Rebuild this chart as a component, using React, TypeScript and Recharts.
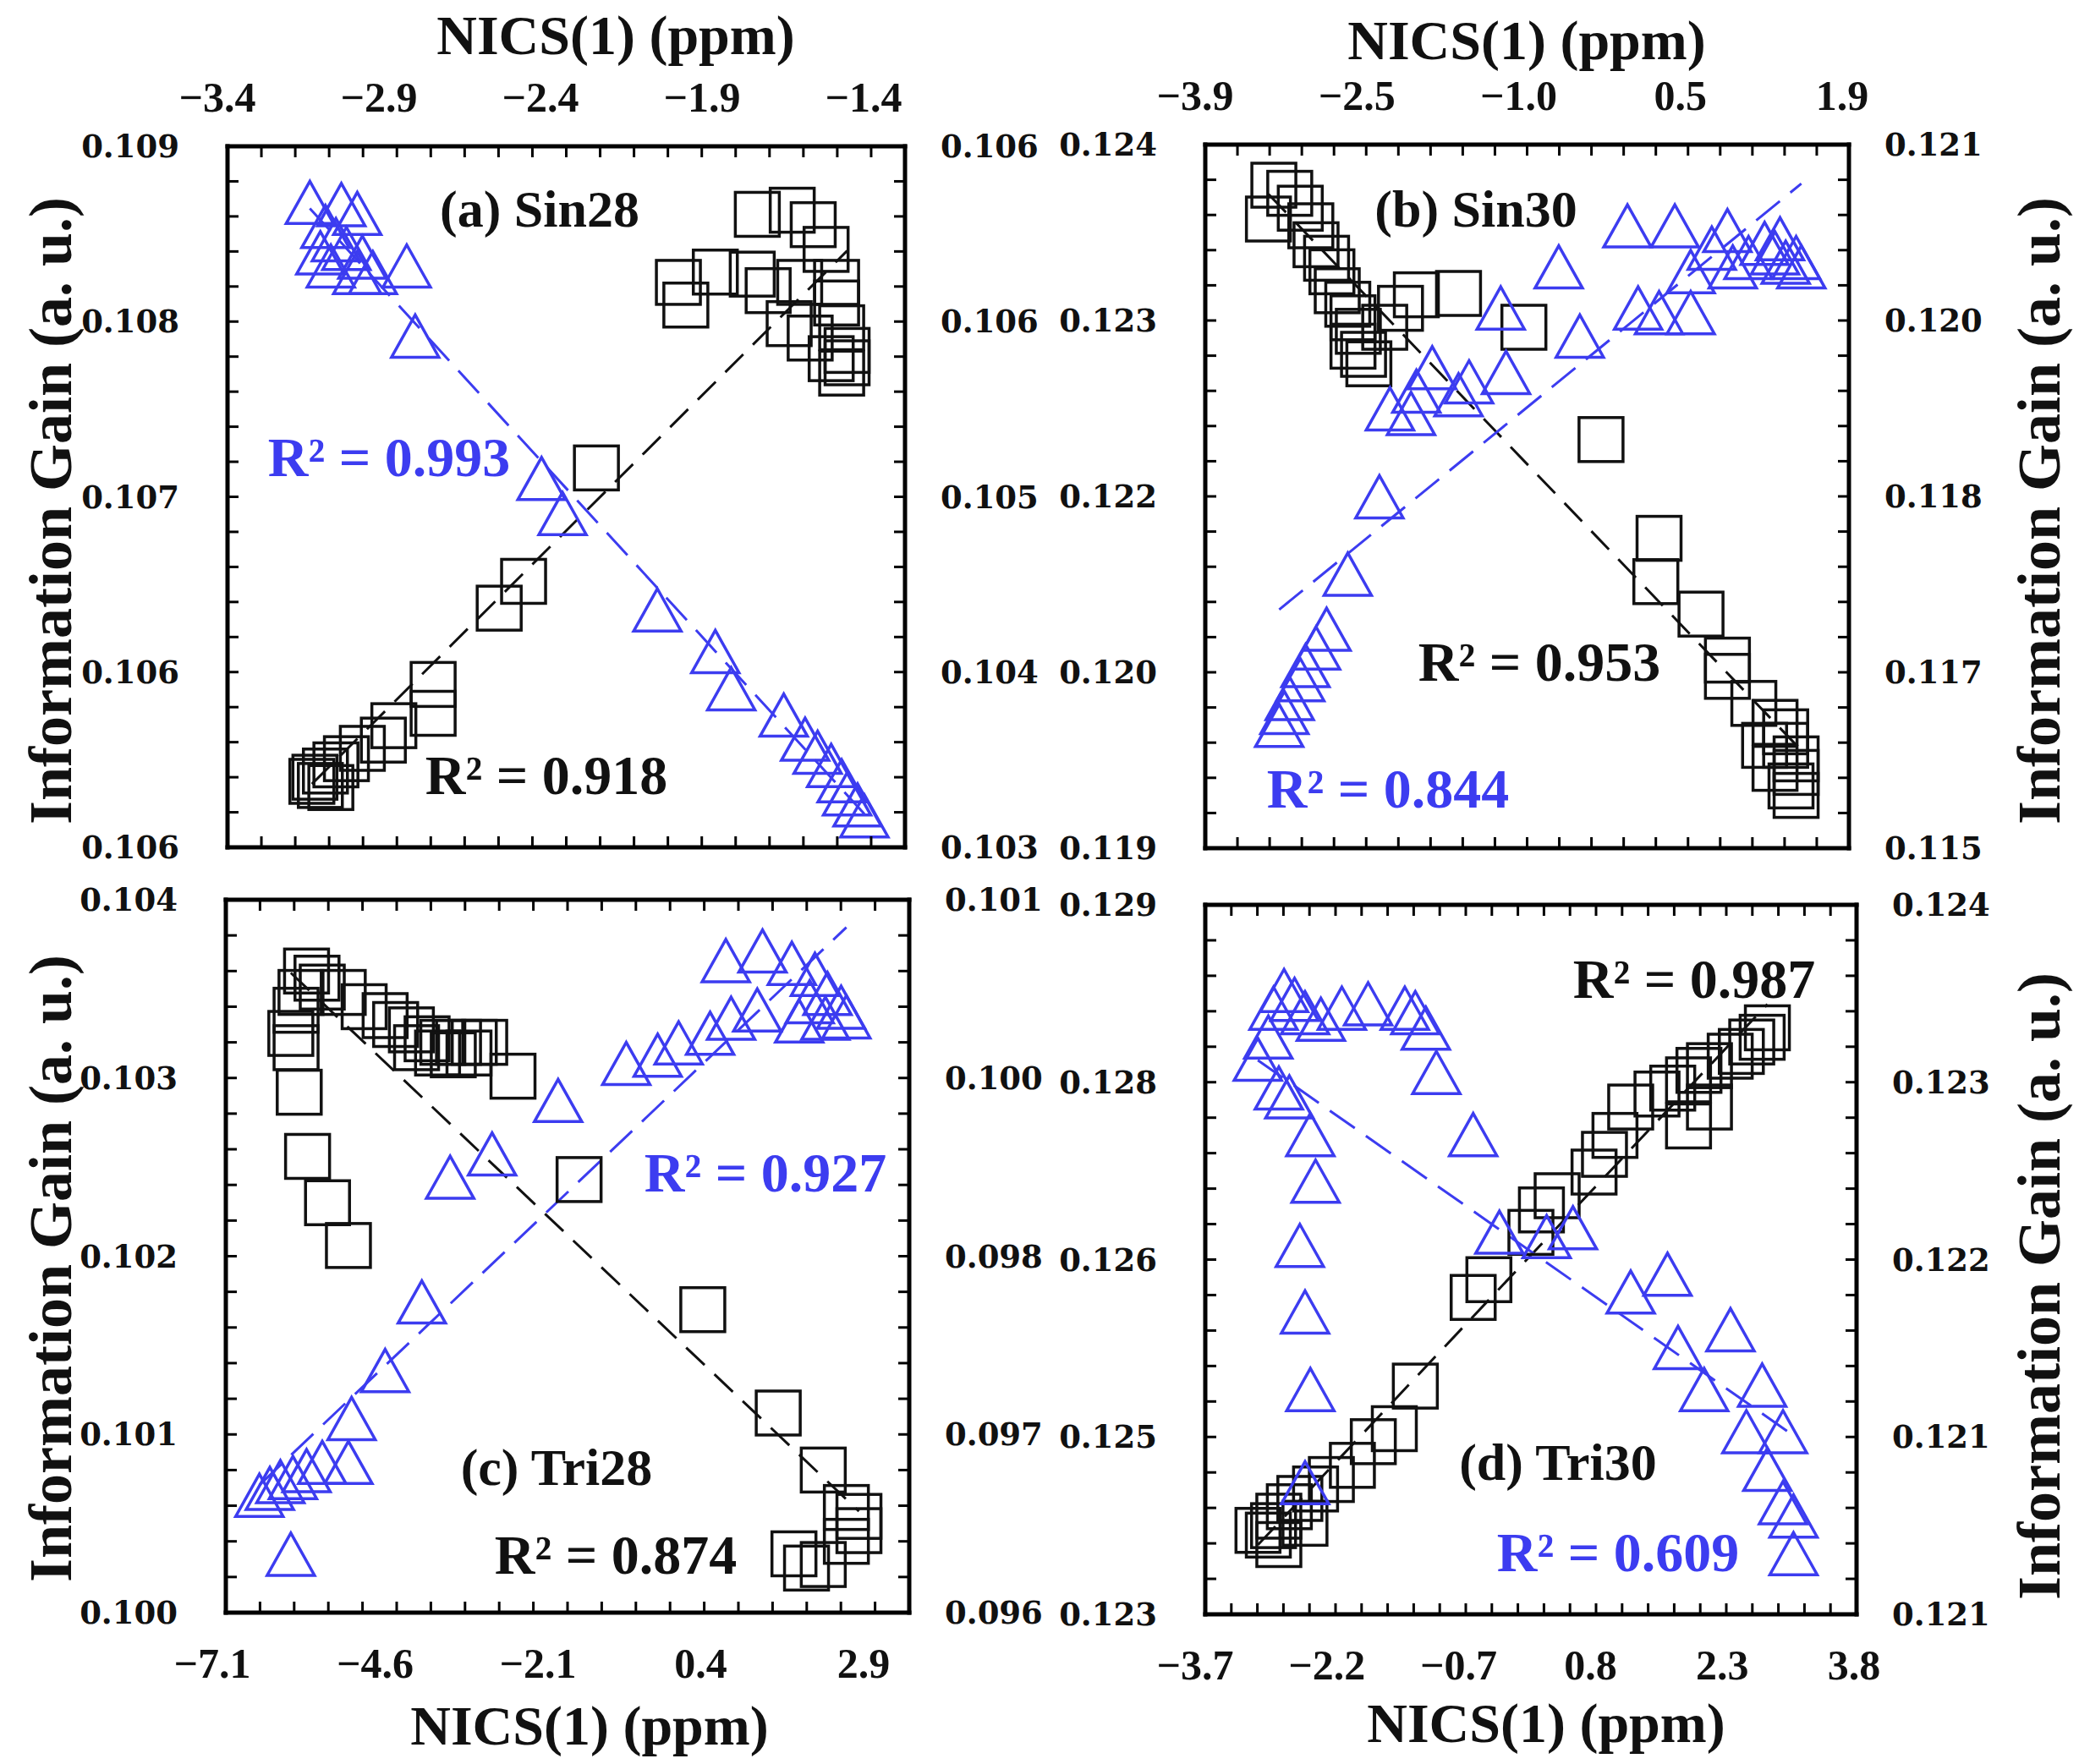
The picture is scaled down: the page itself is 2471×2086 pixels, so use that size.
import React from 'react';
import { ScatterChart, Scatter, XAxis, YAxis } from 'recharts';

const BLUE = '#3c3cf0';
const INK = '#111111';
const SERIF = "'Liberation Serif', 'Times New Roman', serif";
const WIDE = "'DejaVu Serif', serif";

// ---------- (a) Sin28 ----------
const aNicsLabels = ['−3.4', '−2.9', '−2.4', '−1.9', '−1.4'];
const aNicsRange = [-3.4, -1.4];
const aLeftLabels = ['0.106', '0.106', '0.107', '0.108', '0.109'];
const aLeftRange = [0.1056, 0.109];
const aRightLabels = ['0.103', '0.104', '0.105', '0.106', '0.106'];
const aRightRange = [0.1032, 0.1064];
const aSquareNics = [-1.836, -1.733, -1.671, -1.633, -2.069, -2.047, -1.96, -1.851, -1.804, -1.711, -1.602, -1.602, -1.742, -1.68, -1.587, -1.571, -1.571, -1.587, -1.618, -2.311, -2.526, -2.598, -2.793, -2.793, -2.909, -2.94, -3.002, -3.049, -3.08, -3.111, -3.142, -3.151, -3.126, -3.095];
const aSquareGain = [0.10867, 0.10869, 0.10862, 0.1085, 0.10834, 0.10823, 0.10839, 0.10838, 0.1083, 0.10834, 0.10834, 0.10824, 0.10814, 0.10807, 0.10812, 0.10801, 0.10795, 0.1079, 0.10797, 0.10744, 0.10689, 0.10676, 0.10639, 0.10625, 0.10619, 0.10612, 0.10608, 0.10603, 0.106, 0.10597, 0.10594, 0.10592, 0.1059, 0.10589];
const aTriNics = [-3.157, -3.064, -3.017, -3.111, -3.08, -3.126, -3.049, -3.002, -3.095, -3.017, -2.971, -2.871, -2.846, -2.473, -2.411, -2.131, -1.96, -1.913, -1.758, -1.695, -1.658, -1.618, -1.587, -1.571, -1.54, -1.52];
const aTriGain = [0.10614, 0.10613, 0.10609, 0.10603, 0.10597, 0.10591, 0.10593, 0.10589, 0.10585, 0.10582, 0.10582, 0.10585, 0.10553, 0.10488, 0.10472, 0.10428, 0.10409, 0.10392, 0.1038, 0.10369, 0.10363, 0.10357, 0.1035, 0.10344, 0.10339, 0.10334];

// ---------- (b) Sin30 ----------
const bNicsLabels = ['−3.9', '−2.5', '−1.0', '0.5', '1.9'];
const bNicsRange = [-3.9, 1.9];
const bLeftLabels = ['0.119', '0.120', '0.122', '0.123', '0.124'];
const bLeftRange = [0.119, 0.1242];
const bRightLabels = ['0.115', '0.117', '0.118', '0.120', '0.121'];
const bRightRange = [0.1152, 0.1212];
const bSquareNics = [-3.282, -3.139, -3.331, -3.044, -2.949, -2.902, -2.807, -2.759, -2.711, -2.616, -2.569, -2.521, -2.569, -2.474, -2.426, -2.283, -2.141, -1.998, -1.618, -1.029, -0.334, 0.189, 0.16, 0.567, 0.805, 0.805, 1.043, 1.234, 1.33, 1.33, 1.424, 1.424, 1.378, 1.424, 1.14, 1.234];
const bSquareGain = [0.1239, 0.12384, 0.12365, 0.12373, 0.1236, 0.12346, 0.12336, 0.12326, 0.12312, 0.12302, 0.12292, 0.12282, 0.12271, 0.12265, 0.12258, 0.12285, 0.12299, 0.12309, 0.1231, 0.12285, 0.12202, 0.12129, 0.12097, 0.12073, 0.12039, 0.12027, 0.12007, 0.11993, 0.11986, 0.11976, 0.11966, 0.11956, 0.11946, 0.11939, 0.11976, 0.11959];
const bTriNics = [-3.234, -3.187, -3.139, -3.044, -2.997, -2.902, -2.807, -2.616, -2.331, -2.236, -2.046, -1.998, -1.855, -1.618, -1.523, -1.19, -1.238, -0.715, -0.525, -0.096, 0.0, 0.331, 0.474, 0.664, 0.805, 0.853, 0.995, 1.14, 1.234, 1.33, 1.424, 1.471, 1.279, 0.474, 0.189];
const bTriGain = [0.11624, 0.11635, 0.11647, 0.11663, 0.11675, 0.1169, 0.11706, 0.11753, 0.11819, 0.11894, 0.1189, 0.11909, 0.11929, 0.11906, 0.11917, 0.11925, 0.1198, 0.12015, 0.11956, 0.1205, 0.1198, 0.1205, 0.12011, 0.12031, 0.12046, 0.12015, 0.12023, 0.12035, 0.12027, 0.12019, 0.12023, 0.12015, 0.12039, 0.11976, 0.11976];

// ---------- (c) Tri28 ----------
const cNicsLabels = ['−7.1', '−4.6', '−2.1', '0.4', '2.9'];
const cNicsRange = [-7.1, 2.9];
const cLeftLabels = ['0.100', '0.101', '0.102', '0.103', '0.104'];
const cLeftRange = [0.1, 0.104];
const cRightLabels = ['0.096', '0.097', '0.098', '0.100', '0.101'];
const cRightRange = [0.0958, 0.101];
const cSquareNics = [-5.919, -5.766, -6.0, -5.689, -6.072, -6.149, -6.072, -5.382, -5.076, -4.769, -4.615, -4.385, -4.155, -3.925, -3.695, -3.465, -3.312, -4.309, -4.002, -3.772, -3.542, -2.898, -6.026, -5.904, -5.612, -5.306, -1.931, -0.121, 0.983, 1.642, 1.98, 2.164, 2.164, 1.98, 1.213, 1.642, 1.397];
const cSquareGain = [0.1036, 0.10356, 0.10348, 0.10351, 0.10338, 0.10325, 0.10317, 0.10348, 0.1034, 0.10335, 0.1033, 0.10327, 0.10322, 0.1032, 0.1032, 0.1032, 0.1032, 0.10317, 0.10314, 0.10313, 0.10314, 0.10301, 0.10292, 0.10256, 0.1023, 0.10206, 0.10243, 0.1017, 0.10112, 0.1008, 0.10059, 0.10054, 0.10046, 0.1004, 0.10033, 0.10027, 0.10025];
const cTriNics = [-6.609, -6.456, -6.302, -6.118, -5.919, -5.689, -5.306, -5.26, -4.769, -4.232, -3.818, -3.204, -2.238, -1.241, -0.781, -0.474, -0.014, 0.293, 0.676, 0.216, 0.753, 1.182, 1.52, 1.704, 1.443, 1.903, 1.98, 1.673, 1.29, -6.149];
const cTriGain = [0.09665, 0.0967, 0.09675, 0.09678, 0.09683, 0.09689, 0.09689, 0.09721, 0.09756, 0.09806, 0.09897, 0.09914, 0.09953, 0.0998, 0.09986, 0.09995, 0.10002, 0.10013, 0.10019, 0.10055, 0.10062, 0.10053, 0.10045, 0.10031, 0.10025, 0.10021, 0.10014, 0.10013, 0.10011, 0.09622];

// ---------- (d) Tri30 ----------
const dNicsLabels = ['−3.7', '−2.2', '−0.7', '0.8', '2.3', '3.8'];
const dNicsRange = [-3.7, 3.8];
const dLeftLabels = ['0.123', '0.125', '0.126', '0.128', '0.129'];
const dLeftRange = [0.1232, 0.1292];
const dRightLabels = ['0.121', '0.121', '0.122', '0.123', '0.124'];
const dRightRange = [0.1206, 0.1238];
const dSquareNics = [-2.974, -2.914, -2.853, -2.732, -2.611, -2.43, -2.248, -2.006, -1.765, -1.523, -1.281, -0.615, -0.434, 0.05, 0.171, 0.352, 0.777, 0.897, 1.018, 1.199, 1.502, 1.683, 1.865, 1.985, 2.106, 2.345, 2.473, 2.593, 2.713, 2.773, 2.106, 1.865, -2.853, -3.093, -2.552];
const dSquareGain = [0.12387, 0.12395, 0.12403, 0.12411, 0.12418, 0.12426, 0.12434, 0.12446, 0.12466, 0.12477, 0.12513, 0.12588, 0.12603, 0.12643, 0.12662, 0.12674, 0.12694, 0.12709, 0.12725, 0.12749, 0.1276, 0.12765, 0.12772, 0.1278, 0.12784, 0.12792, 0.12796, 0.12804, 0.12808, 0.12816, 0.12749, 0.12733, 0.12379, 0.12391, 0.12397];
const dTriNics = [-2.793, -2.672, -2.914, -2.551, -2.369, -2.127, -1.825, -1.402, -1.281, -1.16, -2.974, -3.095, -2.853, -2.732, -2.49, -2.43, -2.611, -2.551, -2.49, -1.039, -0.615, -0.313, 0.231, 0.534, 1.199, 1.623, 1.744, 2.348, 2.045, 2.713, 2.531, 2.953, 2.773, 2.953, 3.074, 3.074, -2.551];
const dTriGain = [0.12341, 0.12337, 0.12333, 0.12331, 0.12328, 0.12333, 0.12335, 0.12333, 0.12331, 0.12324, 0.1232, 0.1231, 0.12297, 0.12293, 0.12276, 0.12255, 0.12226, 0.12196, 0.12161, 0.12304, 0.12276, 0.12232, 0.1223, 0.12234, 0.12205, 0.12213, 0.1218, 0.12188, 0.12161, 0.12163, 0.12142, 0.12142, 0.12125, 0.1211, 0.12104, 0.12087, 0.12119];

type Pt = { x: number; y: number };
const zip = (xs: number[], ys: number[]): Pt[] => xs.map((x, i) => ({ x, y: ys[i] }));

// least-squares line over the data's x extent
function fit(pts: Pt[]): Pt[] {
  const n = pts.length;
  const mx = pts.reduce((s, p) => s + p.x, 0) / n;
  const my = pts.reduce((s, p) => s + p.y, 0) / n;
  let sxy = 0, sxx = 0;
  pts.forEach((p) => { sxy += (p.x - mx) * (p.y - my); sxx += (p.x - mx) ** 2; });
  const k = sxy / sxx;
  const x0 = Math.min(...pts.map((p) => p.x));
  const x1 = Math.max(...pts.map((p) => p.x));
  return [{ x: x0, y: my + k * (x0 - mx) }, { x: x1, y: my + k * (x1 - mx) }];
}

type Panel = {
  id: string; l: number; t: number; r: number; b: number;
  xSide: 'top' | 'bottom'; shift: [number, number];
  nicsRange: number[]; nicsLabels: string[];
  leftRange: number[]; leftLabels: string[];
  rightRange: number[]; rightLabels: string[];
  squares: Pt[]; triangles: Pt[];
};

const panels: Panel[] = [
  { id: 'a', l: 269, t: 173, r: 1070, b: 1002, xSide: 'top', shift: [-12, -49],
    nicsRange: aNicsRange, nicsLabels: aNicsLabels, leftRange: aLeftRange, leftLabels: aLeftLabels,
    rightRange: aRightRange, rightLabels: aRightLabels, squares: zip(aSquareNics, aSquareGain), triangles: zip(aTriNics, aTriGain) },
  { id: 'b', l: 1425, t: 171, r: 2186, b: 1003, xSide: 'top', shift: [-12, -8],
    nicsRange: bNicsRange, nicsLabels: bNicsLabels, leftRange: bLeftRange, leftLabels: bLeftLabels,
    rightRange: bRightRange, rightLabels: bRightLabels, squares: zip(bSquareNics, bSquareGain), triangles: zip(bTriNics, bTriGain) },
  { id: 'c', l: 267, t: 1064, r: 1075, b: 1907, xSide: 'bottom', shift: [-16, -54],
    nicsRange: cNicsRange, nicsLabels: cNicsLabels, leftRange: cLeftRange, leftLabels: cLeftLabels,
    rightRange: cRightRange, rightLabels: cRightLabels, squares: zip(cSquareNics, cSquareGain), triangles: zip(cTriNics, cTriGain) },
  { id: 'd', l: 1425, t: 1070, r: 2195, b: 1909, xSide: 'bottom', shift: [-12, -3],
    nicsRange: dNicsRange, nicsLabels: dNicsLabels, leftRange: dLeftRange, leftLabels: dLeftLabels,
    rightRange: dRightRange, rightLabels: dRightLabels, squares: zip(dSquareNics, dSquareGain), triangles: zip(dTriNics, dTriGain) },
];

const notes = [
  { text: '(a) Sin28', x: 638, y: 247, color: INK, size: 62 },
  { text: 'R² = 0.993', x: 460, y: 541, color: BLUE, size: 66 },
  { text: 'R² = 0.918', x: 646, y: 917, color: INK, size: 66 },
  { text: '(b) Sin30', x: 1745, y: 247, color: INK, size: 62 },
  { text: 'R² = 0.953', x: 1820, y: 783, color: INK, size: 66 },
  { text: 'R² = 0.844', x: 1641, y: 933, color: BLUE, size: 66 },
  { text: '(c) Tri28', x: 658, y: 1735, color: INK, size: 62 },
  { text: 'R² = 0.874', x: 728, y: 1839, color: INK, size: 66 },
  { text: 'R² = 0.927', x: 905, y: 1387, color: BLUE, size: 66 },
  { text: 'R² = 0.987', x: 2003, y: 1158, color: INK, size: 66 },
  { text: '(d) Tri30', x: 1842, y: 1729, color: INK, size: 62 },
  { text: 'R² = 0.609', x: 1913, y: 1836, color: BLUE, size: 66 },
];

const titles = [
  { text: 'NICS(1) (ppm)', x: 728, y: 42, rot: 0 },
  { text: 'NICS(1) (ppm)', x: 1805, y: 48, rot: 0 },
  { text: 'NICS(1) (ppm)', x: 697, y: 2041, rot: 0 },
  { text: 'NICS(1) (ppm)', x: 1828, y: 2038, rot: 0 },
  { text: 'Information Gain (a. u.)', x: 60, y: 604, rot: -90 },
  { text: 'Information Gain (a. u.)', x: 60, y: 1500, rot: -90 },
  { text: 'Information Gain (a. u.)', x: 2411, y: 604, rot: -90 },
  { text: 'Information Gain (a. u.)', x: 2411, y: 1521, rot: -90 },
];

const spread = (range: number[], n: number) =>
  Array.from({ length: n + 1 }, (_, i) => range[0] + ((range[1] - range[0]) * i) / n);

type TickSpec = { side: string; range: number[]; n: number; labels: string[]; show: boolean; shift?: [number, number] };

function renderTick(t: any, s: TickSpec) {
  const { x, y, payload } = t;
  const i = Math.round(((payload.value - s.range[0]) / (s.range[1] - s.range[0])) * s.n);
  const L = 13;
  const ln = { stroke: '#000', strokeWidth: 3 };
  let line;
  if (s.side === 'left') line = <line x1={x} y1={y} x2={x + L} y2={y} {...ln} />;
  else if (s.side === 'right') line = <line x1={x} y1={y} x2={x - L} y2={y} {...ln} />;
  else if (s.side === 'top') line = <line x1={x} y1={y} x2={x} y2={y + L} {...ln} />;
  else line = <line x1={x} y1={y} x2={x} y2={y - L} {...ln} />;
  let label = null;
  if (s.show && i % 5 === 0) {
    const txt = s.labels[i / 5];
    if (s.side === 'left' || s.side === 'right') {
      label = (
        <text x={s.side === 'left' ? x - 57 : x + 42} y={y} textAnchor={s.side === 'left' ? 'end' : 'start'}
          dominantBaseline="central" fontFamily={WIDE} fontWeight="bold" fontSize={37} fill={INK}>{txt}</text>
      );
    } else {
      const f = i / s.n;
      const sh = s.shift || [0, 0];
      const dx = sh[0] + (sh[1] - sh[0]) * f;
      label = (
        <text x={x + dx} y={s.side === 'top' ? y - 58 : y + 60} textAnchor="middle" dominantBaseline="central"
          fontFamily={SERIF} fontWeight="bold" fontSize={50} fill={INK}>{txt}</text>
      );
    }
  }
  return <g>{line}{label}</g>;
}

const FRAME = { stroke: '#000', strokeWidth: 5, strokeLinecap: 'square' as const };
const AXW = 200;
const AXH = 100;

const squareShape = (p: any) => (
  <rect x={p.cx - 26} y={p.cy - 26} width={52} height={52} fill="none" stroke={INK} strokeWidth={3.5} />
);
const triShape = (p: any) => (
  <polygon points={`${p.cx},${p.cy - 26} ${p.cx - 28},${p.cy + 24} ${p.cx + 28},${p.cy + 24}`}
    fill="none" stroke={BLUE} strokeWidth={3.5} strokeLinejoin="miter" />
);
const noShape = () => <g />;

function PanelChart({ p }: { p: Panel }) {
  const w = p.r - p.l;
  const h = p.b - p.t;
  const nx = (p.nicsLabels.length - 1) * 5;
  const ny = 20;
  const xTicks = spread(p.nicsRange, nx);
  const axisCommon = { type: 'number' as const, interval: 0 as const, tickSize: 0, tickMargin: 0, tickLine: false, axisLine: FRAME, allowDataOverflow: true };
  const dataX = p.xSide;
  return (
    <div style={{ position: 'absolute', left: p.l - AXW, top: p.t - AXH }}>
      <ScatterChart width={w + 2 * AXW} height={h + 2 * AXH} margin={{ top: 0, right: 0, bottom: 0, left: 0 }}>
        <XAxis xAxisId="top" orientation="top" dataKey="x" domain={p.nicsRange} ticks={xTicks} height={AXH} {...axisCommon}
          tick={(t: any) => renderTick(t, { side: 'top', range: p.nicsRange, n: nx, labels: p.nicsLabels, show: p.xSide === 'top', shift: p.shift })} />
        <XAxis xAxisId="bottom" orientation="bottom" dataKey="x" domain={p.nicsRange} ticks={xTicks} height={AXH} {...axisCommon}
          tick={(t: any) => renderTick(t, { side: 'bottom', range: p.nicsRange, n: nx, labels: p.nicsLabels, show: p.xSide === 'bottom', shift: p.shift })} />
        <YAxis yAxisId="left" orientation="left" dataKey="y" domain={p.leftRange} ticks={spread(p.leftRange, ny)} width={AXW} {...axisCommon}
          tick={(t: any) => renderTick(t, { side: 'left', range: p.leftRange, n: ny, labels: p.leftLabels, show: true })} />
        <YAxis yAxisId="right" orientation="right" dataKey="y" domain={p.rightRange} ticks={spread(p.rightRange, ny)} width={AXW} {...axisCommon}
          tick={(t: any) => renderTick(t, { side: 'right', range: p.rightRange, n: ny, labels: p.rightLabels, show: true })} />
        <Scatter data={fit(p.squares)} xAxisId={dataX} yAxisId="left" shape={noShape} isAnimationActive={false}
          line={{ stroke: INK, strokeWidth: 3, strokeDasharray: '30 16' }} />
        <Scatter data={fit(p.triangles)} xAxisId={dataX} yAxisId="right" shape={noShape} isAnimationActive={false}
          line={{ stroke: BLUE, strokeWidth: 3, strokeDasharray: '36 16' }} />
        <Scatter data={p.squares} xAxisId={dataX} yAxisId="left" shape={squareShape} isAnimationActive={false} />
        <Scatter data={p.triangles} xAxisId={dataX} yAxisId="right" shape={triShape} isAnimationActive={false} />
      </ScatterChart>
    </div>
  );
}

export default function App() {
  return (
    <div style={{ position: 'absolute', left: 0, top: 0, width: 2471, height: 2086, background: '#fff', overflow: 'hidden' }}>
      {panels.map((p) => <PanelChart key={p.id} p={p} />)}
      {notes.map((n, i) => (
        <div key={'n' + i} style={{ position: 'absolute', left: n.x, top: n.y, transform: 'translate(-50%, -50%)', whiteSpace: 'nowrap',
          fontFamily: SERIF, fontWeight: 'bold', fontSize: n.size, color: n.color, lineHeight: 1 }}>{n.text}</div>
      ))}
      {titles.map((t, i) => (
        <div key={'t' + i} style={{ position: 'absolute', left: t.x, top: t.y, transform: `translate(-50%, -50%) rotate(${t.rot}deg)`,
          whiteSpace: 'nowrap', fontFamily: SERIF, fontWeight: 'bold', fontSize: t.rot ? 72 : 66, color: INK, lineHeight: 1 }}>{t.text}</div>
      ))}
    </div>
  );
}
